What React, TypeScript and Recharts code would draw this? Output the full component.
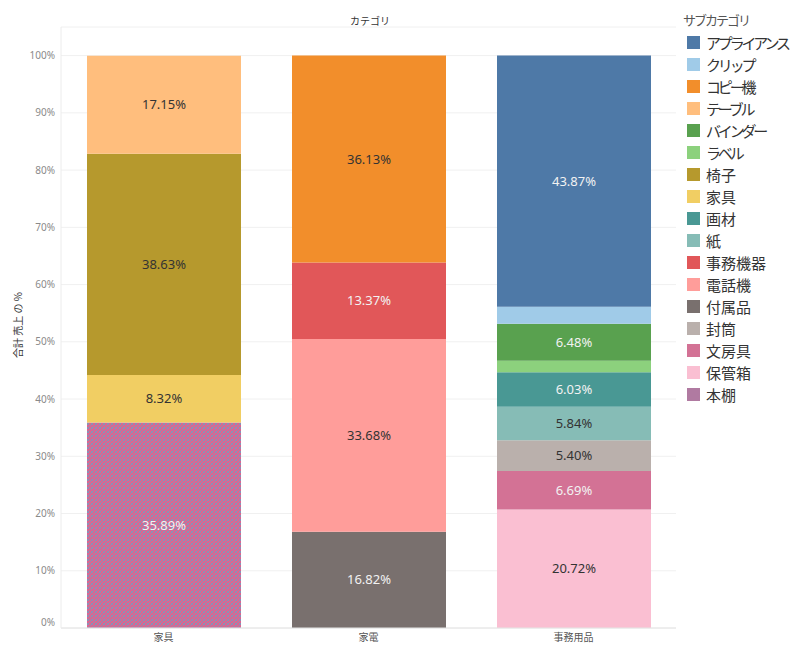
import React from 'react';
import { BarChart, Bar, XAxis, YAxis, CartesianGrid, LabelList } from 'recharts';

const categories = ['家具', '家電', '事務用品'];

// legend order (top of stack first)
const subcategories = ['アプライアンス', 'クリップ', 'コピー機', 'テーブル', 'バインダー', 'ラベル', '椅子', '家具', '画材', '紙', '事務機器', '電話機', '付属品', '封筒', '文房具', '保管箱', '本棚'];
const subColors = ['#4E79A7', '#A0CBE8', '#F28E2B', '#FFBE7D', '#59A14F', '#8CD17D', '#B6992D', '#F1CE63', '#499894', '#86BCB6', '#E15759', '#FF9D9A', '#79706E', '#BAB0AC', '#D37295', '#FABFD2', '#B07AA1'];
const lightLabelSubs = ['アプライアンス', 'バインダー', '画材', '事務機器', '付属品', '文房具', '本棚'];

const furnitureSubs = ['テーブル', '椅子', '家具', '本棚'];
const furnitureVals = [17.15, 38.63, 8.32, 35.89];
const electronicsSubs = ['コピー機', '事務機器', '電話機', '付属品'];
const electronicsVals = [36.13, 13.37, 33.68, 16.82];
const officeSubs = ['アプライアンス', 'クリップ', 'バインダー', 'ラベル', '画材', '紙', '封筒', '文房具', '保管箱'];
const officeVals = [43.87, 2.97, 6.48, 2.0, 6.03, 5.84, 5.4, 6.69, 20.72];

const yTicks = [0, 10, 20, 30, 40, 50, 60, 70, 80, 90, 100];

const buildRow = (name: string, subs: string[], vals: number[]) => {
  const row: any = { name };
  subs.forEach((s, i) => { row[s] = vals[i]; });
  return row;
};

const data = [
  buildRow(categories[0], furnitureSubs, furnitureVals),
  buildRow(categories[1], electronicsSubs, electronicsVals),
  buildRow(categories[2], officeSubs, officeVals),
];

const FONT = '"Noto Sans", "Noto Sans CJK JP", sans-serif';
const CJK = '"Noto Sans CJK JP", "Noto Sans", sans-serif';

const makeLabel = (light: boolean) => (props: any) => {
  const { x, y, width, height, value } = props;
  let v = Array.isArray(value) ? value[1] - value[0] : value;
  if (v == null || isNaN(v) || v < 5) return null;
  return (
    <text
      x={x + width / 2}
      y={y + height / 2}
      dy={4.5}
      textAnchor="middle"
      fill={light ? '#f2f2f2' : '#333333'}
      fontSize={13}
      fontFamily={FONT}
    >
      {Number(v).toFixed(2) + '%'}
    </text>
  );
};

const YTick = (props: any) => {
  const { x, y, payload } = props;
  const shift = payload.value === 0 ? -6 : 0;
  return (
    <text x={x} y={y + shift} dy={3.5} textAnchor="end" fill="#8a8a8a" fontSize={10} fontFamily={FONT}>
      {payload.value + '%'}
    </text>
  );
};

const XTick = (props: any) => {
  const { x, y, payload } = props;
  return (
    <text x={x} y={y} dy={13} textAnchor="middle" fill="#555" fontSize={10} fontFamily={CJK}>
      {payload.value}
    </text>
  );
};

const stackOrder = [...subcategories].reverse();

const isKana = (ch: string) => /[\u30A0-\u30FF]/.test(ch);

const LegendText = ({ text }: { text: string }) => (
  <span style={{ fontFamily: CJK, fontSize: 15, color: '#333' }}>
    {Array.from(text).map((ch, i) => (
      <span key={i} style={{ letterSpacing: isKana(ch) ? -3.2 : 0 }}>{ch}</span>
    ))}
  </span>
);

export default function App() {
  return (
    <div style={{ position: 'relative', width: 800, height: 658, margin: -8, background: '#fff', overflow: 'hidden' }}>
      <div style={{ position: 'absolute', left: 0, top: 0, width: 800, height: 2, background: '#f0f0f0' }} />
      <div style={{ position: 'absolute', left: 0, top: 653, width: 800, height: 5, background: '#ececec' }} />
      <BarChart
        width={800}
        height={658}
        data={data}
        margin={{ top: 27, right: 124, bottom: 0, left: 0 }}
        barSize={154}
      >
        <defs>
          <pattern id="ditherBook" patternUnits="userSpaceOnUse" width="4" height="4">
            <rect x="0" y="0" width="4" height="4" fill="#dc6590" />
            <rect x="0" y="0" width="1" height="1" fill="#8c90b6" />
            <rect x="2" y="1" width="1" height="1" fill="#8c90b6" />
            <rect x="3" y="0" width="1" height="1" fill="#8c90b6" />
            <rect x="1" y="2" width="1" height="1" fill="#8c90b6" />
            <rect x="3" y="3" width="1" height="1" fill="#8c90b6" />
            <rect x="0" y="3" width="1" height="1" fill="#8c90b6" />
          </pattern>
        </defs>
        <CartesianGrid vertical={false} stroke="#f0f0f0" />
        <XAxis
          dataKey="name"
          axisLine={{ stroke: '#e4e4e4' }}
          tickLine={false}
          tickSize={0}
          tickMargin={0}
          height={30}
          tick={<XTick />}
          interval={0}
        />
        <YAxis
          type="number"
          domain={[0, 105]}
          ticks={yTicks}
          width={61}
          axisLine={{ stroke: '#ececec' }}
          tickLine={false}
          tickSize={0}
          tickMargin={6}
          tick={<YTick />}
          interval={0}
          allowDataOverflow
        />
        {stackOrder.map((s) => {
          const idx = subcategories.indexOf(s);
          const fill = s === '本棚' ? 'url(#ditherBook)' : subColors[idx];
          return (
            <Bar key={s} dataKey={s} stackId="a" fill={fill} isAnimationActive={false}>
              <LabelList dataKey={s} content={makeLabel(lightLabelSubs.includes(s))} />
            </Bar>
          );
        })}
      </BarChart>
      <div style={{ position: 'absolute', left: 370, top: 20, transform: 'translate(-50%, -50%)', fontSize: 10, color: '#333', fontFamily: CJK, whiteSpace: 'nowrap' }}>
        カテゴリ
      </div>
      <div style={{ position: 'absolute', left: 17, top: 325, transform: 'translate(-50%, -50%) rotate(-90deg)', fontSize: 10, color: '#333', fontFamily: CJK, whiteSpace: 'nowrap' }}>
        合計 売上 の %
      </div>
      <div style={{ position: 'absolute', left: 683, top: 11, fontFamily: CJK, color: '#555', fontSize: 13, lineHeight: '18px', whiteSpace: 'nowrap' }}>
        {Array.from('サブカテゴリ').map((ch, i) => (
          <span key={i} style={{ letterSpacing: -2 }}>{ch}</span>
        ))}
      </div>
      {subcategories.map((s, i) => (
        <div key={s} style={{ position: 'absolute', left: 687, top: 42 + i * 22.06 - 11, height: 22, display: 'flex', alignItems: 'center', whiteSpace: 'nowrap' }}>
          <div style={{ width: 13, height: 13, background: subColors[i], marginRight: 6 }} />
          <LegendText text={s} />
        </div>
      ))}
    </div>
  );
}
